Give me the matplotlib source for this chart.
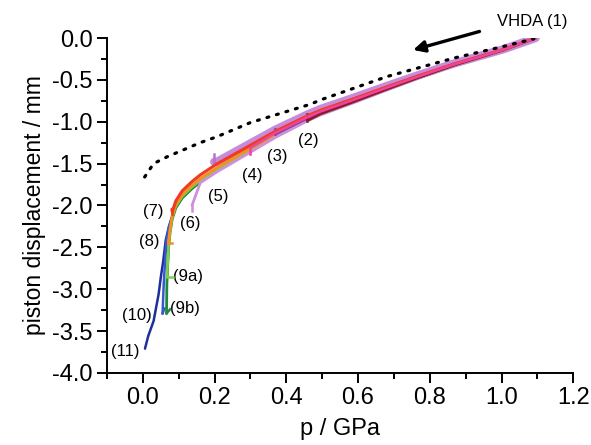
import numpy as np
import matplotlib
matplotlib.use('Agg')
from matplotlib import pyplot as plt
from matplotlib.ticker import MultipleLocator

plt.rcParams['font.family'] = ['Liberation Sans', 'DejaVu Sans']
plt.rcParams['axes.unicode_minus'] = False

# %% data
# shared decompression branch (p / GPa, displacement / mm)
p_main = [1.095, 1.006, 0.867, 0.765, 0.681, 0.580, 0.495, 0.458, 0.369, 0.300, 0.206, 0.160, 0.137, 0.110, 0.092, 0.082]
d_main = [0.00, -0.14, -0.32, -0.47, -0.60, -0.76, -0.89, -0.96, -1.15, -1.32, -1.55, -1.68, -1.76, -1.87, -1.99, -2.12]

# steep low-pressure branches
p_green = [0.076, 0.072, 0.069, 0.067, 0.066]
d_green = [-2.28, -2.45, -2.70, -2.90, -3.25]
p_blue = [0.073, 0.064, 0.057, 0.050, 0.044, 0.030, 0.015, 0.006]
d_blue = [-2.24, -2.40, -2.65, -2.85, -3.05, -3.37, -3.55, -3.70]
p_blue10 = [0.073, 0.066, 0.062, 0.058, 0.055]
d_blue10 = [-2.24, -2.40, -2.65, -2.95, -3.28]

# compression curve of the starting material (dotted)
p_dot = [0.005, 0.03, 0.067, 0.16, 0.206, 0.30, 0.468, 0.495, 0.681, 0.867, 1.006, 1.09]
d_dot = [-1.66, -1.50, -1.42, -1.25, -1.18, -1.01, -0.79, -0.74, -0.46, -0.24, -0.10, -0.01]

# runs (drawing order): label, end point, hook point, branch, colour
run_labels = ['(5)', '(11)', '(10)', '(9b)', '(9a)', '(8)', '(6)', '(3)', '(2)', '(7)', '(4)']
end_p = [0.199, 0.006, 0.055, 0.066, 0.067, 0.071, 0.137, 0.369, 0.458, 0.081, 0.300]
end_d = [-1.55, -3.70, -3.28, -3.25, -2.83, -2.45, -1.95, -1.15, -0.97, -2.09, -1.33]
hook_p = [0.199, 0.006, 0.060, 0.076, 0.083, 0.080, 0.137, 0.369, 0.458, 0.081, 0.300]
hook_d = [-1.45, -3.70, -3.22, -3.20, -2.83, -2.45, -2.02, -1.09, -0.89, -2.15, -1.40]
branch = ['', 'blue', 'blue10', 'green', 'green', 'green', '', '', '', '', '']
colors = ['#b870d2', '#1c2f9a', '#3a56d0', '#1f8a3a', '#7ed04a', '#f5901e',
          '#cf8fdc', '#7a3aa8', '#8b1a2a', '#f03a22', '#f0449a']
offsets = [0.07, -0.01, -0.01, -0.04, -0.02, 0.0, -0.05, 0.0, -0.03, 0.045, 0.02]
widths = [6.0, 1.8, 1.8, 2.0, 1.8, 2.0, 2.0, 1.8, 1.8, 2.2, 1.8]

# label positions
lab_p = [0.211, -0.050, -0.017, 0.118, 0.127, 0.018, 0.132, 0.374, 0.462, 0.030, 0.304]
lab_d = [-1.89, -3.75, -3.31, -3.23, -2.85, -2.43, -2.21, -1.42, -1.22, -2.07, -1.64]

branches = {'green': (p_green, d_green), 'blue': (p_blue, d_blue), 'blue10': (p_blue10, d_blue10)}

# %%
fig = plt.figure(figsize=(5.91, 4.45), dpi=100)
ax = fig.add_axes([0.181, 0.162, 0.789, 0.7526])

for i in range(len(run_labels)):
    pm = np.array(p_main)
    dm = np.array(d_main)
    if branch[i]:
        bp, bd = branches[branch[i]]
        bp = np.array(bp)
        bd = np.array(bd)
        keep = bd > end_d[i]
        px = np.concatenate([pm, bp[keep], [end_p[i]]])
        dx = np.concatenate([dm, bd[keep], [end_d[i]]])
    else:
        keep = pm > end_p[i]
        px = np.concatenate([pm[keep], [end_p[i]]])
        dx = np.concatenate([dm[keep], [end_d[i]]])
    # small spread between the runs, growing with depth
    shift = offsets[i] * np.clip(-dx / 1.5, 0, 1)
    ax.plot(px, dx + shift, color=colors[i], lw=widths[i], solid_capstyle='round',
            solid_joinstyle='round', alpha=0.8 if i == 0 else 1.0, zorder=2 + i)
    hx = [end_p[i], hook_p[i]]
    hy = np.array([end_d[i], hook_d[i]]) + shift[-1]
    ax.plot(hx, hy, color=colors[i], lw=1.8, zorder=2 + i)
    ax.text(lab_p[i], lab_d[i], run_labels[i], fontsize=12, ha='center', va='center')

ax.plot(p_dot, d_dot, color='black', lw=2.3, linestyle=(0, (0.6, 2.5)),
        dash_capstyle='round', zorder=20)

ax.annotate('', xy=(0.746, -0.152), xytext=(0.946, 0.087),
            arrowprops=dict(arrowstyle='-|>', color='black', lw=2.4, mutation_scale=17),
            annotation_clip=False)
ax.text(1.087, 0.2, 'VHDA (1)', fontsize=12, ha='center', va='center', clip_on=False)

ax.set_xlim(-0.1, 1.2)
ax.set_ylim(-4.0, 0.0)
ax.xaxis.set_major_locator(MultipleLocator(0.2))
ax.xaxis.set_minor_locator(MultipleLocator(0.1))
ax.yaxis.set_major_locator(MultipleLocator(0.5))
ax.yaxis.set_minor_locator(MultipleLocator(0.25))
ax.xaxis.set_major_formatter(plt.FormatStrFormatter('%.1f'))
ax.yaxis.set_major_formatter(plt.FormatStrFormatter('%.1f'))
ax.spines['top'].set_visible(False)
ax.spines['right'].set_visible(False)
for s in ['left', 'bottom']:
    ax.spines[s].set_linewidth(1.4)
ax.tick_params(which='major', direction='out', length=7, width=1.4, labelsize=17)
ax.tick_params(which='minor', direction='out', length=4, width=1.4)
ax.set_xlabel('p / GPa', fontsize=17, labelpad=6)
ax.set_ylabel('piston displacement / mm', fontsize=16.5, labelpad=4)

fig.savefig('out.png', dpi=100)
